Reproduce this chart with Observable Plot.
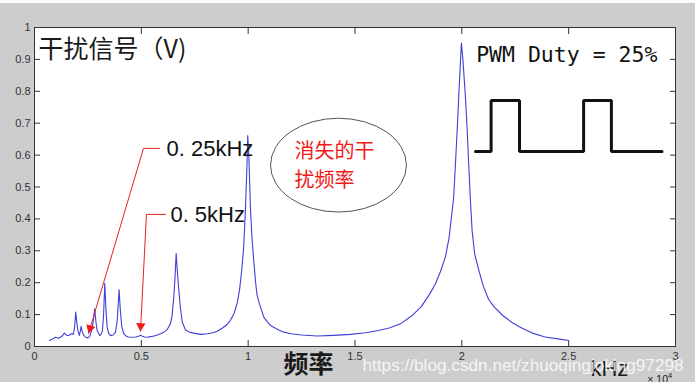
<!DOCTYPE html>
<html><head><meta charset="utf-8">
<script src="https://cdn.jsdelivr.net/npm/d3@7"></script>
<script src="https://cdn.jsdelivr.net/npm/@observablehq/plot@0.6"></script>
<style>
html,body{margin:0;padding:0;background:#cdcdcd;}
#strip{height:3px;background:#fff;}
#chart svg{display:block;}
</style></head><body><div id="strip"></div><div id="chart"></div>
<script>
// spectrum (x in kHz ×10^4 axis units, y in V)
const freq = [0.070,0.086,0.098,0.114,0.128,0.140,0.153,0.165,0.172,0.181,0.187,0.193,0.198,0.203,0.210,0.215,0.218,0.223,0.228,0.239,0.250,0.258,0.265,0.273,0.282,0.287,0.293,0.306,0.313,0.318,0.323,0.329,0.334,0.340,0.348,0.356,0.368,0.379,0.387,0.396,0.402,0.409,0.418,0.426,0.440,0.457,0.475,0.490,0.496,0.503,0.515,0.527,0.543,0.560,0.575,0.590,0.605,0.620,0.636,0.644,0.652,0.658,0.663,0.668,0.675,0.683,0.692,0.707,0.725,0.745,0.777,0.810,0.835,0.855,0.880,0.900,0.917,0.935,0.950,0.960,0.970,0.979,0.987,0.994,0.998,1.003,1.011,1.019,1.026,1.035,1.042,1.050,1.073,1.089,1.104,1.143,1.167,1.200,1.250,1.323,1.400,1.479,1.550,1.610,1.660,1.713,1.767,1.810,1.850,1.876,1.900,1.923,1.940,1.955,1.962,1.970,1.978,1.986,1.993,1.998,2.005,2.017,2.025,2.032,2.040,2.048,2.060,2.080,2.100,2.125,2.150,2.190,2.235,2.280,2.330,2.390,2.450,2.500];
const amp  = [0.019,0.024,0.029,0.026,0.032,0.042,0.034,0.036,0.040,0.038,0.055,0.108,0.075,0.050,0.035,0.050,0.063,0.048,0.038,0.029,0.027,0.032,0.045,0.070,0.118,0.080,0.050,0.034,0.040,0.050,0.095,0.198,0.120,0.060,0.040,0.034,0.036,0.045,0.080,0.178,0.110,0.060,0.040,0.034,0.030,0.029,0.030,0.033,0.035,0.033,0.030,0.029,0.031,0.033,0.036,0.040,0.045,0.052,0.071,0.097,0.155,0.220,0.292,0.240,0.180,0.120,0.075,0.052,0.045,0.042,0.038,0.040,0.043,0.048,0.058,0.068,0.082,0.105,0.140,0.180,0.240,0.310,0.426,0.560,0.661,0.600,0.426,0.330,0.270,0.200,0.160,0.140,0.092,0.078,0.066,0.052,0.045,0.040,0.036,0.033,0.035,0.038,0.043,0.050,0.058,0.071,0.097,0.125,0.165,0.196,0.235,0.280,0.340,0.426,0.470,0.570,0.677,0.790,0.886,0.951,0.900,0.780,0.680,0.573,0.460,0.364,0.290,0.238,0.190,0.148,0.125,0.098,0.075,0.058,0.042,0.030,0.024,0.019];

const xTicks = [0,0.5,1,1.5,2,2.5,3];
const xTickLabels = ["0","0.5","1","1.5","2","2.5","3"];
const yTicks = [0,0.1,0.2,0.3,0.4,0.5,0.6,0.7,0.8,0.9,1];
const yTickLabels = ["0","0.1","0.2","0.3","0.4","0.5","0.6","0.7","0.8","0.9","1"];

// PWM square-wave inset (drawn in chart units)
const pwmX = [2.064,2.137,2.137,2.270,2.270,2.570,2.570,2.700,2.700,2.937];
const pwmY = [0.611,0.611,0.771,0.771,0.611,0.611,0.771,0.771,0.611,0.611];

// annotation arrows
const arrowId = ["a","a","a","b","b","b"];
const arrowX = [0.585,0.510,0.253,0.613,0.524,0.496];
const arrowY = [0.621,0.621,0.041,0.414,0.414,0.048];
const headX = [0.260,0.497];
const headY = [0.057,0.064];
const headAngle = [196.6,183];

const spectrum = freq.map((f,i)=>({f, v: amp[i]}));
const pwm = pwmX.map((x,i)=>({x, y: pwmY[i]}));
const arrows = arrowX.map((x,i)=>({id: arrowId[i], x, y: arrowY[i]}));
const heads = headX.map((x,i)=>({x, y: headY[i], a: headAngle[i]}));

function ellipseMark(cx, cy, rx, ry) {
  return (index, scales) => {
    const {x, y} = scales;
    const el = document.createElementNS("http://www.w3.org/2000/svg","ellipse");
    el.setAttribute("cx", x(cx));
    el.setAttribute("cy", y(cy));
    el.setAttribute("rx", Math.abs(x(cx+rx)-x(cx)));
    el.setAttribute("ry", Math.abs(y(cy+ry)-y(cy)));
    el.setAttribute("fill","none");
    el.setAttribute("stroke","#555");
    el.setAttribute("stroke-width","1");
    return el;
  };
}
const fmt = (ticks, labels) => d => labels[ticks.indexOf(d)];
const sans = "Liberation Sans, Arial, sans-serif";
const cjk = "Noto Sans CJK SC, sans-serif";

const chart = Plot.plot({
  width: 695, height: 379,
  marginLeft: 34, marginRight: 20, marginTop: 24, marginBottom: 36,
  style: {background: "#cdcdcd", fontFamily: sans, overflow: "visible", color: "#333"},
  x: {domain: [0,3]},
  y: {domain: [0,1]},
  marks: [
    Plot.frame({fill: "white", stroke: "none"}),
    Plot.axisX({anchor: "bottom", ticks: xTicks, tickFormat: fmt(xTicks, xTickLabels), tickSize: -6, tickPadding: 12, fontSize: 11, label: null, color: "#333"}),
    Plot.axisX({anchor: "top", ticks: xTicks, tickFormat: () => "", tickSize: -6, label: null, color: "#333"}),
    Plot.axisY({anchor: "left", ticks: yTicks, tickFormat: fmt(yTicks, yTickLabels), tickSize: -6, tickPadding: 10, fontSize: 11, label: null, color: "#333"}),
    Plot.axisY({anchor: "right", ticks: yTicks, tickFormat: () => "", tickSize: -6, label: null, color: "#333"}),
    Plot.line(spectrum, {x: "f", y: "v", stroke: "#3f3fd8", strokeWidth: 1.1}),
    Plot.line(pwm, {x: "x", y: "y", stroke: "#111", strokeWidth: 3, strokeLinejoin: "miter"}),
    Plot.line(arrows, {x: "x", y: "y", z: "id", stroke: "#e82020", strokeWidth: 1}),
    Plot.dot(heads, {x: "x", y: "y", rotate: "a", symbol: "triangle", r: 3.5, fill: "#ee1a1a", stroke: null}),
    ellipseMark(1.425, 0.567, 0.318, 0.147),
    Plot.text(["干扰信号（V)"], {x: 0.019, y: 0.931, textAnchor: "start", fontSize: 25, fontFamily: cjk, fill: "#1a1a1a"}),
    Plot.text(["PWM Duty = 25%"], {x: 2.067, y: 0.912, textAnchor: "start", fontSize: 21.5, fontFamily: "DejaVu Sans Mono, monospace", fill: "#111"}),
    Plot.text(["0. 25kHz"], {x: 0.618, y: 0.618, textAnchor: "start", fontSize: 22, fontFamily: sans, fill: "#111"}),
    Plot.text(["0. 5kHz"], {x: 0.636, y: 0.412, textAnchor: "start", fontSize: 22, fontFamily: sans, fill: "#111"}),
    Plot.text(["消失的干"], {x: 1.217, y: 0.611, textAnchor: "start", fontSize: 20, fontFamily: cjk, fill: "#f01818"}),
    Plot.text(["扰频率"], {x: 1.217, y: 0.520, textAnchor: "start", fontSize: 20, fontFamily: cjk, fill: "#f01818"}),
    Plot.text(["频率"], {x: 1.282, y: -0.058, fontSize: 25, fontWeight: "bold", fontFamily: cjk, fill: "#1a1a1a"}),
    Plot.text(["kHz"], {x: 2.602, y: -0.070, textAnchor: "start", fontSize: 22, fontFamily: sans, fill: "#1a1a1a"}),
    Plot.text(["× 10"], {x: 2.868, y: -0.103, textAnchor: "start", fontSize: 10.5, fontFamily: sans, fill: "#222"}),
    Plot.text(["4"], {x: 2.965, y: -0.092, textAnchor: "start", fontSize: 7.5, fontFamily: sans, fill: "#222"}),
    Plot.text(["https://blog.csdn.net/zhuoqingjoking97298"], {x: 1.535, y: -0.058, textAnchor: "start", fontSize: 17.2, fontFamily: sans, fill: "white", fillOpacity: 0.82}),
    Plot.frame({stroke: "#333", strokeWidth: 1})
  ]
});
document.getElementById("chart").append(chart);
</script></body></html>
